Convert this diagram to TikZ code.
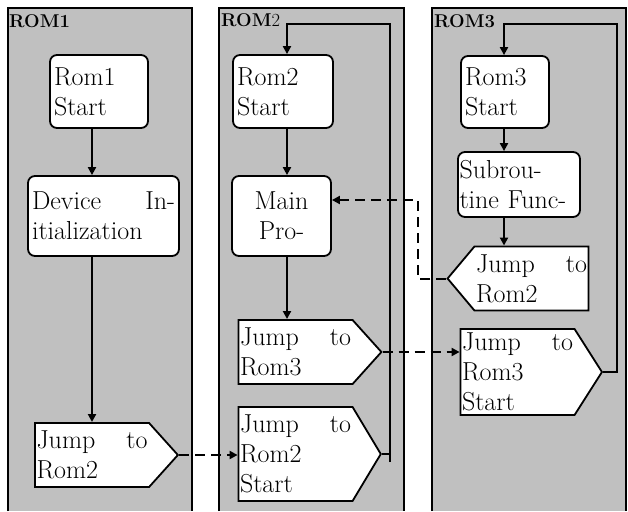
\documentclass[tikz,border=0pt]{standalone}
\usepackage{tikz}
\usetikzlibrary{calc, positioning, arrows.meta, shapes.symbols}
\usepackage{xcolor}
\definecolor{laneGray}{RGB}{192, 192, 192}

\begin{document}
\begin{tikzpicture}[
  x=1pt, y=-1pt,
  proc/.style={draw, fill=white, rounded corners=7pt, line width=1.8pt,
               align=left, inner xsep=4pt, inner ysep=0pt,
               font=\fontsize{26}{30}\selectfont},
  jumpbox/.style={signal, draw, fill=white, line width=1.8pt,
                  text width=111pt, align=left, inner xsep=1.5pt, inner ysep=8pt,
                  font=\fontsize{26}{30}\selectfont},
  lanelbl/.style={anchor=base west, inner sep=0pt, font=\fontsize{18.5}{20}\selectfont},
  flow/.style={line width=2pt},
  jumpto/.style={line width=2pt, dash pattern=on 10pt off 6pt},
  >={Triangle[length=8pt, width=8pt]}
]
  \useasboundingbox (0,0) rectangle (628,511);

  % swim lanes
  \fill[laneGray] (8,8) rectangle (192,511);
  \draw[flow] (8,511) -- (8,8) -- (192,8) -- (192,511);
  \fill[laneGray] (219,8) rectangle (404,511);
  \draw[flow] (219,511) -- (219,8) -- (404,8) -- (404,511);
  \fill[laneGray] (432,8) rectangle (626,511);
  \draw[flow] (432,511) -- (432,8) -- (626,8) -- (626,511);
  \node[lanelbl] (lbl1) at (9,28) {\bfseries ROM1};
  \node[lanelbl] (lbl2) at (221,27) {\textbf{ROM}2};
  \node[lanelbl] (lbl3) at (434,28) {\bfseries ROM3};

  % ROM1
  \node[proc, text width=90pt, minimum height=73pt] (r1start) at (99,91.5) {Rom1\\Start};
  \node[proc, text width=143pt, minimum height=80pt] (r1init) at (103.5,216)
    {Device\hfill In-\\itialization};
  \node[jumpbox, signal to=east, signal pointer angle=96] (r1jump) at (92,455)
    {Jump\hfill to\\Rom2};

  % ROM2
  \node[proc, text width=92pt, minimum height=73pt] (r2start) at (283,91.5) {Rom2\\Start};
  \node[proc, text width=91pt, minimum height=80pt, align=center] (r2main) at (281.5,216)
    {Main\\Pro-};
  \node[jumpbox, signal to=east, signal pointer angle=96] (r2jump3) at (295.5,352)
    {Jump\hfill to\\Rom3};
  \node[jumpbox, signal to=east, signal pointer angle=118] (r2jump2s) at (295.5,454)
    {Jump\hfill to\\Rom2\\Start};

  % ROM3
  \node[proc, text width=80pt, minimum height=72pt] (r3start) at (505,92) {Rom3\\Start};
  \node[proc, text width=119pt, minimum height=65pt, inner xsep=1.5pt] (r3sub) at (519,184.5)
    {Subrou-\\tine Func-};
  \node[jumpbox, signal to=west, signal pointer angle=100] (r3jump2) at (531.5,278.5)
    {Jump\hfill to\\Rom2};
  \node[jumpbox, signal to=east, signal pointer angle=115, inner ysep=4pt] (r3jump3s)
    at (517.5,372) {Jump\hfill to\\Rom3\\Start};

  \coordinate (r2col) at (287,24);
  \coordinate (r2bus) at (390,24);
  \coordinate (r3col) at (504,24);
  \coordinate (r3bus) at (617,24);
  \coordinate (r3bend) at (418,200);

  % flow inside the lanes
  \draw[flow, ->] (r1start.south -| r1jump.north) -- (r1init.north -| r1jump.north);
  \draw[flow, ->] (r1init.south -| r1jump.north) -- (r1jump.north);
  \draw[flow, ->] (r2start.south -| r2col) -- (r2main.north -| r2col);
  \draw[flow, ->] (r2main.south -| r2col) -- (r2jump3.north -| r2col);
  \draw[flow] (r2jump3.east) -- (r2jump3.east -| r2bus);
  \draw[flow] (r2jump2s.east) -- (r2jump2s.east -| r2bus);
  \draw[flow, ->] ([yshift=-8pt]r2jump2s.east -| r2bus) -- (r2bus) -- (r2col)
    -- (r2start.north -| r2col);
  \draw[flow, ->] (r3start.south -| r3col) -- (r3sub.north -| r3col);
  \draw[flow, ->] (r3sub.south -| r3col) -- (r3jump2.north -| r3col);
  \draw[flow, ->] (r3jump3s.east) -| (r3bus) -- (r3col) -- (r3start.north -| r3col);

  % jumps between the lanes
  \draw[jumpto, ->] (r1jump.east) -- (r1jump.east -| r2jump2s.west);
  \draw[jumpto, ->] (r2jump3.east) -- (r2jump3.east -| r3jump3s.west);
  \draw[jumpto, ->] (r3jump2.west) -| (r3bend) -- (r3bend -| r2main.east);
\end{tikzpicture}
\end{document}
